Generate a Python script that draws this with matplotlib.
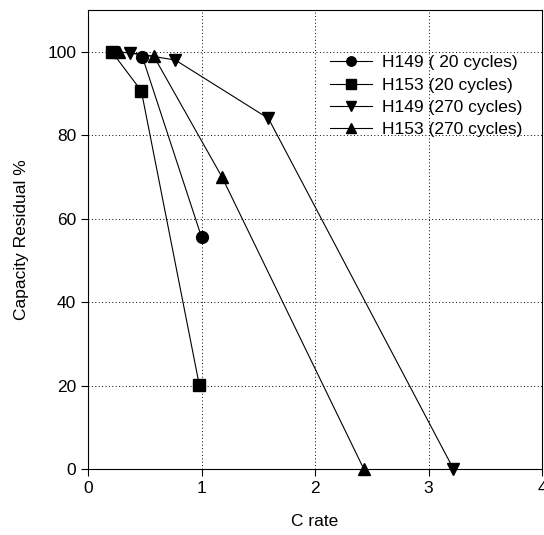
import matplotlib
matplotlib.use("Agg")
import matplotlib.pyplot as plt

plt.rcParams['font.family'] = ['Liberation Sans', 'DejaVu Sans']

# Data
h149_20_x = [0.48, 1.0]
h149_20_y = [98.7, 55.6]
h153_20_x = [0.21, 0.47, 0.98]
h153_20_y = [100.0, 90.6, 20.2]
h149_270_x = [0.37, 0.77, 1.59, 3.22]
h149_270_y = [99.8, 98.0, 84.0, 0.0]
h153_270_x = [0.27, 0.58, 1.18, 2.43]
h153_270_y = [100.0, 98.9, 70.0, 0.0]

labels = ["H149 ( 20 cycles)", "H153 (20 cycles)", "H149 (270 cycles)", "H153 (270 cycles)"]
xticks = [0, 1, 2, 3, 4]
yticks = [0, 20, 40, 60, 80, 100]

FS = 12.5

fig = plt.figure(figsize=(5.44, 5.35), dpi=100)
ax = fig.add_axes([88/544, 66/535, 454/544, 459/535])

series = [
    (h149_20_x, h149_20_y, 'o'),
    (h153_20_x, h153_20_y, 's'),
    (h149_270_x, h149_270_y, 'v'),
    (h153_270_x, h153_270_y, '^'),
]
for (x, y, m), lab in zip(series, labels):
    ax.plot(x, y, color='black', lw=0.8, marker=m, markersize=8.5,
            markerfacecolor='black', markeredgecolor='black', label=lab, clip_on=False, zorder=3)

ax.set_xlim(0, 4)
ax.set_ylim(0, 110)
ax.set_xticks(xticks)
ax.set_yticks(yticks)
ax.tick_params(direction='out', length=5, width=0.8, labelsize=FS, colors='black')
ax.grid(True, linestyle=(0, (1, 2.5)), color='black', linewidth=0.7)
ax.set_axisbelow(True)
for s in ax.spines.values():
    s.set_linewidth(0.8)

ax.set_xlabel("C rate", fontsize=FS, labelpad=13)
ax.set_ylabel("Capacity Residual %", fontsize=FS, labelpad=13)

ax.legend(loc='upper left', bbox_to_anchor=(0.533, 0.902), frameon=False, fontsize=FS,
          handlelength=2.4, handletextpad=0.57, labelspacing=0.42, borderpad=0, borderaxespad=0,
          markerscale=0.8)

fig.savefig("out.png", dpi=100)
